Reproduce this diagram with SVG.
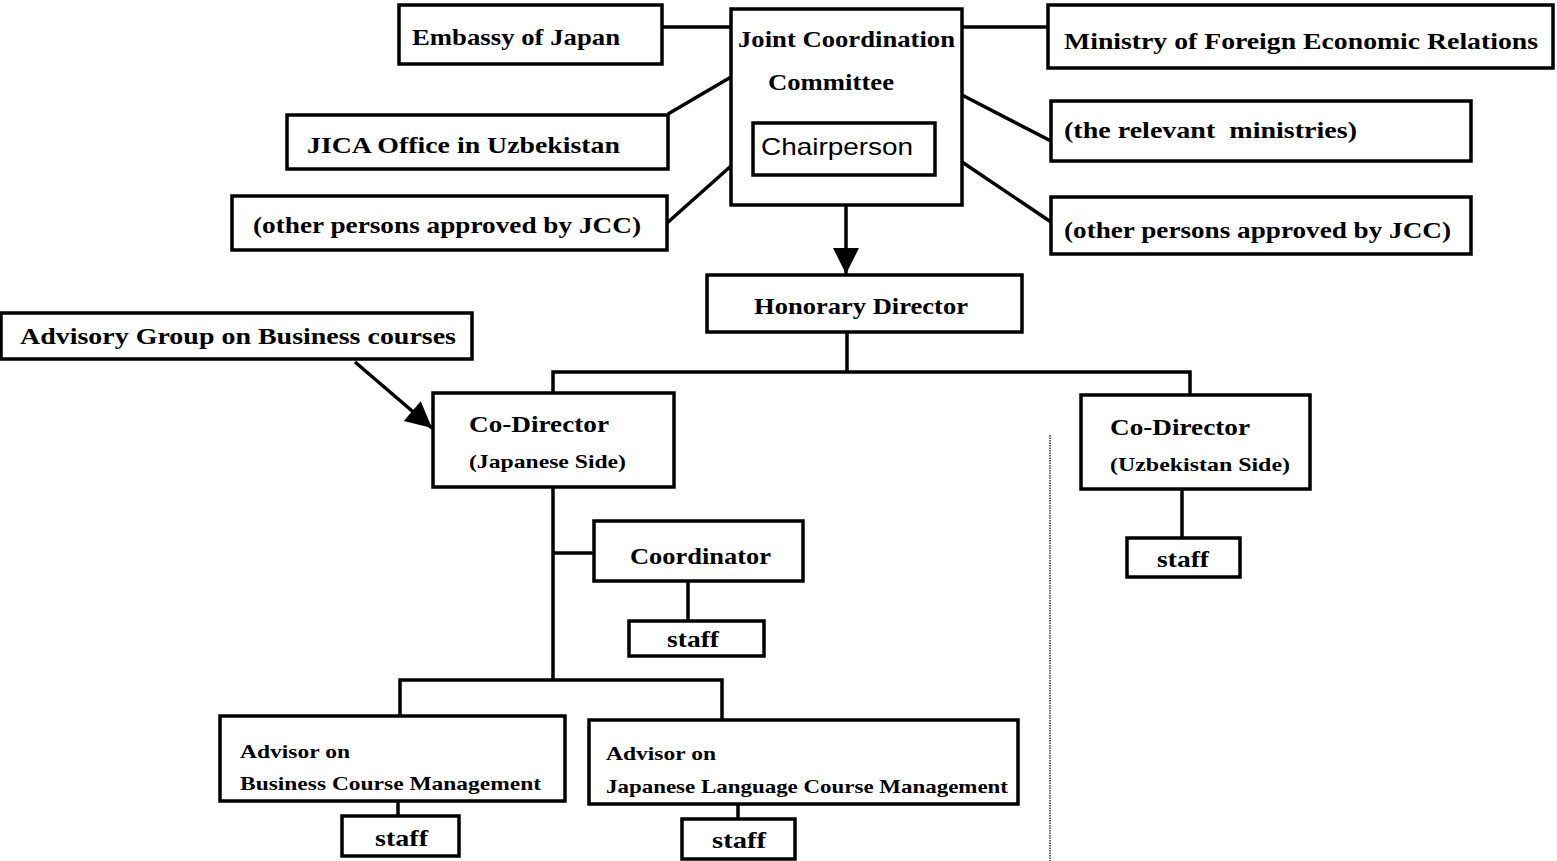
<svg xmlns="http://www.w3.org/2000/svg" width="1557" height="861" viewBox="0 0 1557 861">
<style>
.box{fill:#fff;stroke:#000;stroke-width:3.5}
.t{font-family:"Liberation Serif","Times New Roman",serif;font-weight:bold;font-size:23px;fill:#000}
.s{font-size:19px}
.sans{font-family:"Liberation Sans",Arial,sans-serif;font-weight:normal;font-size:24px}
.c{fill:none;stroke:#000;stroke-width:3.5}
</style>
<defs>
<marker id="ah2" viewBox="0 0 10 10" refX="10" refY="5" markerWidth="30" markerHeight="26" orient="auto" markerUnits="userSpaceOnUse">
<path d="M0,0 L10,5 L0,10 Z" fill="#000"/>
</marker>
</defs>
<rect width="1557" height="861" fill="#fff"/>
<g id="connectors">
<line class="c" x1="662" y1="27" x2="731" y2="27"/>
<line class="c" x1="962" y1="27" x2="1048" y2="27"/>
<line class="c" x1="668" y1="114" x2="731" y2="77"/>
<line class="c" x1="667" y1="223" x2="731" y2="166"/>
<line class="c" x1="962" y1="95" x2="1051" y2="141"/>
<line class="c" x1="962" y1="162" x2="1051" y2="222"/>
<line class="c" x1="846" y1="205" x2="846" y2="274" marker-end="url(#ah2)"/>
<polyline class="c" points="553,393 553,372 1190,372 1190,395"/>
<line class="c" x1="847" y1="332" x2="847" y2="372"/>
<line class="c" x1="355" y1="362" x2="432" y2="428" marker-end="url(#ah2)"/>
<line class="c" x1="553" y1="487" x2="553" y2="680"/>
<line class="c" x1="553" y1="553" x2="594" y2="553"/>
<polyline class="c" points="400,716 400,680 722,680 722,720"/>
<line class="c" x1="688" y1="581" x2="688" y2="621"/>
<line class="c" x1="1182" y1="489" x2="1182" y2="538"/>
<line class="c" x1="398" y1="801" x2="398" y2="816"/>
<line class="c" x1="738" y1="804" x2="738" y2="819"/>
<line x1="1050" y1="435" x2="1050" y2="861" stroke="#000" stroke-width="1.2" stroke-dasharray="1.5,1"/>
</g>
<g id="embassy"><rect class="box" x="399" y="5" width="263" height="59"/><text class="t" x="412" y="45" textLength="208" lengthAdjust="spacingAndGlyphs">Embassy of Japan</text></g>
<g id="jcc"><rect class="box" x="731" y="9" width="231" height="196"/>
<text class="t" x="738" y="47" textLength="217" lengthAdjust="spacingAndGlyphs">Joint Coordination</text>
<text class="t" x="768" y="90" textLength="126" lengthAdjust="spacingAndGlyphs">Committee</text>
</g>
<g id="chairperson"><rect class="box" x="753" y="123" width="182" height="52"/><text class="t sans" x="761" y="155" textLength="152" lengthAdjust="spacingAndGlyphs">Chairperson</text></g>
<g id="ministry"><rect class="box" x="1048" y="5" width="505" height="63"/><text class="t" x="1064" y="49" textLength="474" lengthAdjust="spacingAndGlyphs">Ministry of Foreign Economic Relations</text></g>
<g id="jica"><rect class="box" x="287" y="115" width="381" height="54"/><text class="t" x="307" y="153" textLength="313" lengthAdjust="spacingAndGlyphs">JICA Office in Uzbekistan</text></g>
<g id="ministries"><rect class="box" x="1051" y="101" width="420" height="60"/><text class="t" x="1064" y="138" textLength="293" lengthAdjust="spacingAndGlyphs" xml:space="preserve">(the relevant  ministries)</text></g>
<g id="others-left"><rect class="box" x="232" y="196" width="435" height="54"/><text class="t" x="253" y="233" textLength="388" lengthAdjust="spacingAndGlyphs">(other persons approved by JCC)</text></g>
<g id="others-right"><rect class="box" x="1051" y="197" width="420" height="57"/><text class="t" x="1064" y="238" textLength="387" lengthAdjust="spacingAndGlyphs">(other persons approved by JCC)</text></g>
<g id="honorary"><rect class="box" x="707" y="275" width="315" height="57"/><text class="t" x="754" y="314" textLength="214" lengthAdjust="spacingAndGlyphs">Honorary Director</text></g>
<g id="advisory"><rect class="box" x="1" y="313" width="471" height="46"/><text class="t" x="20" y="344" textLength="436" lengthAdjust="spacingAndGlyphs">Advisory Group on Business courses</text></g>
<g id="codir-jp"><rect class="box" x="433" y="393" width="241" height="94"/>
<text class="t" x="469" y="432" textLength="140" lengthAdjust="spacingAndGlyphs">Co-Director</text>
<text class="t s" x="469" y="468" textLength="157" lengthAdjust="spacingAndGlyphs">(Japanese Side)</text></g>
<g id="codir-uz"><rect class="box" x="1081" y="395" width="229" height="94"/>
<text class="t" x="1110" y="435" textLength="140" lengthAdjust="spacingAndGlyphs">Co-Director</text>
<text class="t s" x="1110" y="471" textLength="180" lengthAdjust="spacingAndGlyphs">(Uzbekistan Side)</text></g>
<g id="coordinator"><rect class="box" x="594" y="521" width="209" height="60"/><text class="t" x="630" y="564" textLength="141" lengthAdjust="spacingAndGlyphs">Coordinator</text></g>
<g id="staff-coord"><rect class="box" x="629" y="621" width="135" height="35"/><text class="t" x="667" y="647" textLength="52" lengthAdjust="spacingAndGlyphs">staff</text></g>
<g id="staff-uz"><rect class="box" x="1127" y="538" width="113" height="39"/><text class="t" x="1157" y="567" textLength="52" lengthAdjust="spacingAndGlyphs">staff</text></g>
<g id="advisor-bus"><rect class="box" x="220" y="716" width="345" height="85"/>
<text class="t s" x="240" y="758" textLength="110" lengthAdjust="spacingAndGlyphs">Advisor on</text>
<text class="t s" x="240" y="790" textLength="301" lengthAdjust="spacingAndGlyphs">Business Course Management</text></g>
<g id="advisor-jp"><rect class="box" x="589" y="720" width="429" height="84"/>
<text class="t s" x="606" y="760" textLength="110" lengthAdjust="spacingAndGlyphs">Advisor on</text>
<text class="t s" x="606" y="793" textLength="402" lengthAdjust="spacingAndGlyphs">Japanese Language Course Management</text></g>
<g id="staff-bus"><rect class="box" x="342" y="816" width="117" height="40"/><text class="t" x="375" y="846" textLength="53" lengthAdjust="spacingAndGlyphs">staff</text></g>
<g id="staff-jp"><rect class="box" x="682" y="819" width="113" height="40"/><text class="t" x="712" y="848" textLength="54" lengthAdjust="spacingAndGlyphs">staff</text></g>
</svg>
